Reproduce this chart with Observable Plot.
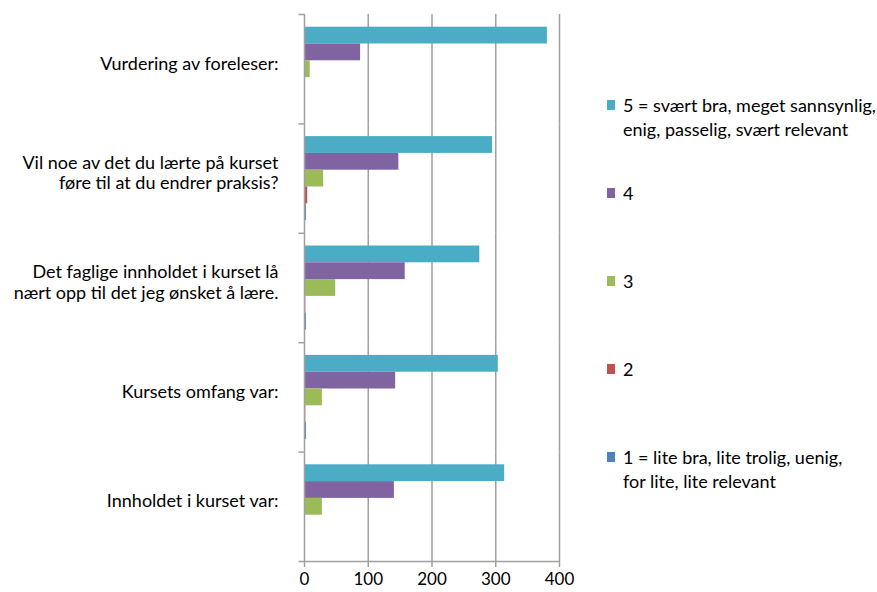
<!DOCTYPE html>
<html>
<head>
<meta charset="utf-8">
<script src="https://cdn.jsdelivr.net/npm/d3@7"></script>
<script src="https://cdn.jsdelivr.net/npm/@observablehq/plot@0.6"></script>
<style>
  body { margin: 0; background: white; font-family: Lato, sans-serif; }
  #wrap { position: relative; width: 877px; height: 592px; }
  #legend { position: absolute; left: 0; top: 0; }
  .item { position: absolute; left: 607px; font-size: 18px; line-height: 24px; color: #000; white-space: nowrap; }
  .sw { position: absolute; left: 0; top: 7px; width: 8px; height: 10px; }
  .txt { position: absolute; left: 16px; top: 0; }
</style>
</head>
<body>
<div id="wrap"><div id="chart"></div><div id="legend"></div></div>
<script>
const questions = [
  "Vurdering av foreleser:",
  "Vil noe av det du lærte på kurset\nføre til at du endrer praksis?",
  "Det faglige innholdet i kurset lå\nnært opp til det jeg ønsket å lære.",
  "Kursets omfang var:",
  "Innholdet i kurset var:"
];
const ratings = [5, 4, 3, 2, 1];
const ratingLabels = [
  "5 = svært bra, meget sannsynlig,\nenig, passelig, svært relevant",
  "4",
  "3",
  "2",
  "1 = lite bra, lite trolig, uenig,\nfor lite, lite relevant"
];
const colors = ["#4BACC6", "#8064A2", "#9BBB59", "#C0504D", "#4F81BD"];
const r5 = [381, 295, 275, 304, 314];
const r4 = [88, 148, 158, 143, 141];
const r3 = [9, 30, 49, 28, 28];
const r2 = [0, 5, 2, 2, 0];
const r1 = [0, 3, 3, 3, 0];
const xTicks = [0, 100, 200, 300, 400];

const series = {5: r5, 4: r4, 3: r3, 2: r2, 1: r1};
const data = [];
questions.forEach((q, i) => ratings.forEach(r => data.push({question: q, rating: r, value: series[r][i]})));

const W = 877, H = 592, ML = 304, MR = 318, MT = 14, MB = 31;
const grey = "#a0a0a0";
const frameW = W - ML - MR;
const leftTick = {draw(ctx) { ctx.moveTo(-6, 0); ctx.lineTo(0, 0); }};
const baseLine = {draw(ctx) { ctx.moveTo(-6, 0); ctx.lineTo(frameW, 0); }};

const chart = Plot.plot({
  width: W, height: H,
  marginLeft: ML, marginRight: MR, marginTop: MT, marginBottom: MB,
  style: {fontFamily: "Lato, sans-serif", fontSize: "18px", color: "#000", background: "white", overflow: "visible"},
  x: {domain: [0, 400], axis: null},
  y: {domain: ratings, paddingInner: 0, paddingOuter: 0.756, round: false, axis: null},
  fy: {domain: questions, padding: 0, round: false, axis: null},
  color: {domain: ratings, range: colors},
  marks: [
    Plot.ruleX(xTicks.slice(1), {stroke: grey, strokeWidth: 1.5}),
    Plot.barX(data, {x: "value", y: "rating", fy: "question", fill: "rating"}),
    Plot.ruleX([0], {stroke: grey, strokeWidth: 1.5}),
    Plot.dot(questions, {fy: d => d, frameAnchor: "top-left", symbol: leftTick, stroke: grey, strokeWidth: 1.5, fill: "none"}),
    Plot.dot([questions[questions.length - 1]], {fy: d => d, frameAnchor: "bottom-left", symbol: baseLine, stroke: grey, strokeWidth: 1.5, fill: "none"}),
    Plot.axisX({ticks: xTicks, tickSize: 6, tickPadding: 5, stroke: grey, strokeWidth: 1.5, fontSize: 17, label: null}),
    Plot.axisFy({anchor: "left", tickSize: 0, tickPadding: 26, label: null, fontSize: 18, lineHeight: 1.12, dy: -6})
  ]
});
document.getElementById("chart").appendChild(chart);

const legend = document.getElementById("legend");
ratings.forEach((r, i) => {
  const item = document.createElement("div");
  item.className = "item";
  item.style.top = (93 + i * 88) + "px";
  const sw = document.createElement("div");
  sw.className = "sw";
  sw.style.background = colors[i];
  const t = document.createElement("div");
  t.className = "txt";
  t.innerHTML = ratingLabels[i].split("\n").join("<br>");
  item.appendChild(sw); item.appendChild(t);
  legend.appendChild(item);
});
</script>
</body>
</html>
